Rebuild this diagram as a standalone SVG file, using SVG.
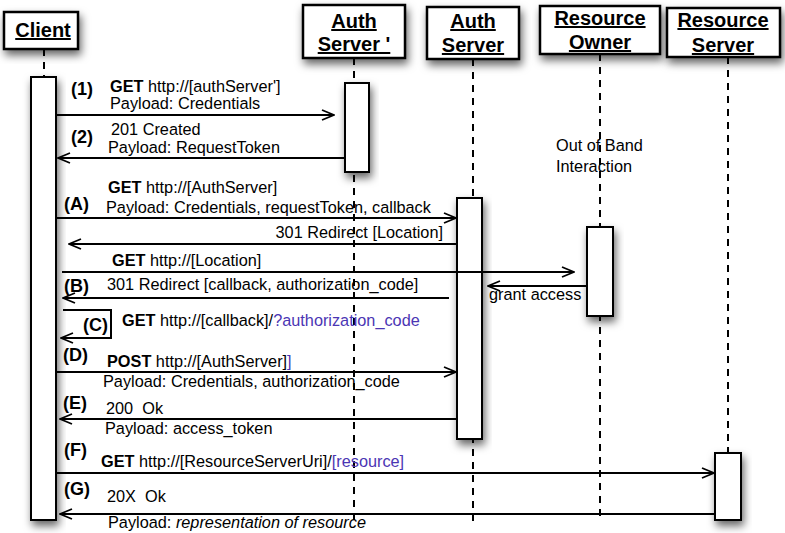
<svg xmlns="http://www.w3.org/2000/svg" width="785" height="533" viewBox="0 0 785 533">
<defs>
<filter id="sh" x="-40%" y="-40%" width="180%" height="180%">
<feDropShadow dx="2" dy="5" stdDeviation="4" flood-color="#000" flood-opacity="0.6"/>
</filter>
<marker id="ah" viewBox="0 0 14 12" refX="13" refY="6" markerWidth="14" markerHeight="12" markerUnits="userSpaceOnUse" orient="auto">
<path d="M1,1 L13,6 L1,11" fill="none" stroke="#000" stroke-width="1.8"/>
</marker>
</defs>
<style>
.box{fill:#fff;stroke:#000;stroke-width:2.5}
.act{fill:#fff;stroke:#000;stroke-width:2}
.life{stroke:#000;stroke-width:2;stroke-dasharray:7 6;fill:none}
.hd{font-family:"Liberation Sans",Arial,sans-serif;font-size:20px;font-weight:bold;text-anchor:middle;text-decoration:underline}
.t{font-family:"Liberation Sans",Arial,sans-serif;font-size:16.3px;fill:#000;white-space:pre}
.b{font-weight:bold}
.lb{font-family:"Liberation Sans",Arial,sans-serif;font-size:18px;font-weight:bold}
.p{fill:#4b36b4}
.msg{stroke:#000;stroke-width:2;fill:none;marker-end:url(#ah)}
</style>
<rect width="785" height="533" fill="#fff"/>

<g id="lifelines">
<line class="life" x1="44" y1="49" x2="44" y2="76"/>
<line class="life" x1="354" y1="58" x2="354" y2="522"/>
<line class="life" x1="473" y1="59" x2="473" y2="522"/>
<line class="life" x1="600" y1="54" x2="600" y2="522"/>
<line class="life" x1="728" y1="57" x2="728" y2="522"/>
</g>

<g id="client">
<rect class="box" x="4" y="12" width="74" height="37" filter="url(#sh)"/>
<text class="hd" x="43" y="37">Client</text>
<rect class="act" x="31" y="77" width="25" height="443" filter="url(#sh)"/>
</g>
<g id="authServerPrime">
<rect class="box" x="303" y="5" width="102" height="53" filter="url(#sh)"/>
<text class="hd" x="354" y="28">Auth</text>
<text class="hd" x="354" y="51">Server '</text>
<rect class="act" x="345" y="83" width="24" height="89" filter="url(#sh)"/>
</g>
<g id="authServer">
<rect class="box" x="427" y="7" width="92" height="52" filter="url(#sh)"/>
<text class="hd" x="473" y="28">Auth</text>
<text class="hd" x="473" y="52">Server</text>
<rect class="act" x="457" y="198" width="25" height="241" filter="url(#sh)"/>
</g>
<g id="resourceOwner">
<rect class="box" x="540" y="6" width="120" height="48" filter="url(#sh)"/>
<text class="hd" x="600" y="25">Resource</text>
<text class="hd" x="600" y="49">Owner</text>
<rect class="act" x="587" y="227" width="26" height="89" filter="url(#sh)"/>
</g>
<g id="resourceServer">
<rect class="box" x="667" y="8" width="113" height="49" filter="url(#sh)"/>
<text class="hd" x="723" y="27">Resource</text>
<text class="hd" x="723" y="52">Server</text>
<rect class="act" x="715" y="453" width="26" height="67" filter="url(#sh)"/>
</g>

<g id="connectors">
<line class="msg" x1="56" y1="115" x2="334" y2="115"/>
<line class="msg" x1="345" y1="158" x2="58" y2="158"/>
<line class="msg" x1="56" y1="218" x2="456" y2="218"/>
<line class="msg" x1="457" y1="244" x2="69" y2="244"/>
<line class="msg" x1="62" y1="272" x2="574" y2="272"/>
<line class="msg" x1="587" y1="286" x2="488" y2="286"/>
<line class="msg" x1="449" y1="298" x2="63" y2="298"/>
<path class="msg" d="M63,310 L111,310 L111,338 L61,338"/>
<line class="msg" x1="56" y1="372" x2="456" y2="372"/>
<line class="msg" x1="457" y1="419" x2="60" y2="419"/>
<line class="msg" x1="56" y1="473" x2="714" y2="473"/>
<line class="msg" x1="715" y1="514" x2="60" y2="514"/>
</g>

<g id="labels">
<text class="lb" x="71" y="95">(1)</text>
<text class="t" x="110" y="92"><tspan class="b">GET</tspan> http://[authServer']</text>
<text class="t" x="110" y="109">Payload: Credentials</text>
<text class="lb" x="71" y="143">(2)</text>
<text class="t" x="111" y="135">201 Created</text>
<text class="t" x="108" y="153">Payload: RequestToken</text>

<text class="t" x="556" y="151">Out of Band</text>
<text class="t" x="556" y="172">Interaction</text>

<text class="t" x="108" y="193"><tspan class="b">GET</tspan> http://[AuthServer]</text>
<text class="lb" x="64" y="210">(A)</text>
<text class="t" x="106" y="213">Payload: Credentials, requestToken, callback</text>
<text class="t" x="443" y="238" text-anchor="end">301 Redirect [Location]</text>
<text class="t" x="112" y="266"><tspan class="b">GET</tspan> http://[Location]</text>
<text class="lb" x="64" y="292">(B)</text>
<text class="t" x="107" y="290">301 Redirect [callback, authorization_code]</text>
<text class="t" x="489" y="300">grant access</text>
<text class="lb" x="83" y="331">(C)</text>
<text class="t" x="122" y="326"><tspan class="b">GET</tspan> http://[callback]/<tspan class="p">?authorization_code</tspan></text>

<text class="lb" x="63" y="361">(D)</text>
<text class="t" x="107" y="367"><tspan class="b">POST</tspan> http://[AuthServer]<tspan class="p">]</tspan></text>
<text class="t" x="103" y="387">Payload: Credentials, authorization_code</text>
<text class="lb" x="63" y="409">(E)</text>
<text class="t" x="106" y="414">200  Ok</text>
<text class="t" x="105" y="434">Payload: access_token</text>
<text class="lb" x="64" y="456">(F)</text>
<text class="t" x="101" y="467"><tspan class="b">GET</tspan> http://[ResourceServerUri]/<tspan class="p">[resource]</tspan></text>
<text class="lb" x="64" y="495">(G)</text>
<text class="t" x="107" y="502">20X  Ok</text>
<text class="t" x="108" y="528">Payload: <tspan font-style="italic">representation of resource</tspan></text>
</g>
</svg>
